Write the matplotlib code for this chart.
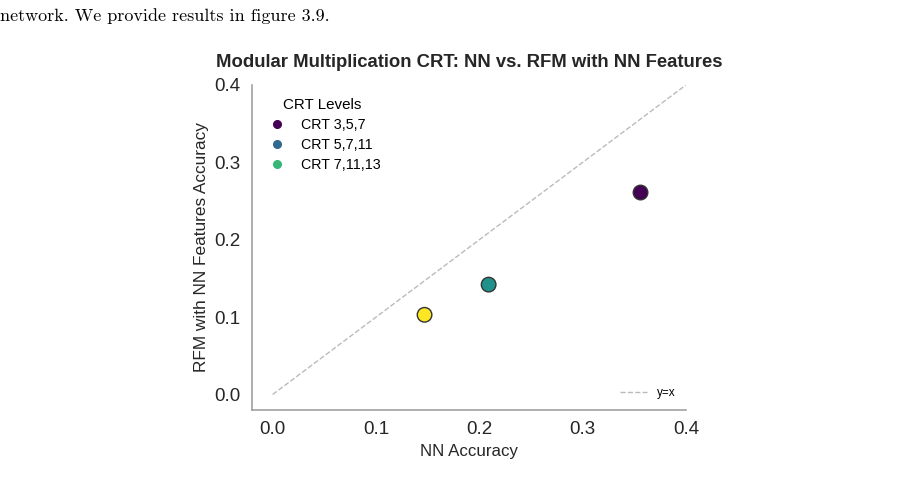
import matplotlib
matplotlib.use("Agg")
import matplotlib.pyplot as plt
from matplotlib.lines import Line2D
import numpy as np

# data
levels = ["CRT 3,5,7", "CRT 5,7,11", "CRT 7,11,13"]
nn_acc = [0.356, 0.209, 0.147]
rfm_acc = [0.261, 0.142, 0.103]
legend_colors = ["#440154", "#31688e", "#35b779"]
xticks = [0.0, 0.1, 0.2, 0.3, 0.4]
yticks = [0.0, 0.1, 0.2, 0.3, 0.4]


def main():
    plt.rcParams["font.family"] = ["Liberation Sans", "DejaVu Sans"]
    fig = plt.figure(figsize=(9.12, 4.9), dpi=100)
    ax = fig.add_axes([0.2763, 0.1633, 0.4759, 0.6633])

    # surrounding page text
    fig.text(0.0, 0.968, "network. We provide results in figure 3.9.",
             family="cmr10", fontsize=13, va="center", ha="left")

    ax.plot([0, 0.4], [0, 0.4], ls="--", color="#bbbbbb", lw=1, label="y=x")

    cmap = plt.get_cmap("viridis")
    pt_colors = cmap(np.linspace(0, 1, len(levels)))
    ax.scatter(nn_acc, rfm_acc, s=110, c=pt_colors, edgecolors="#333333",
               linewidths=1, zorder=3)

    ax.set_xlim(-0.02, 0.4)
    ax.set_ylim(-0.02, 0.4)
    ax.set_xticks(xticks)
    ax.set_yticks(yticks)
    ax.set_xticklabels([f"{t:.1f}" for t in xticks])
    ax.set_yticklabels([f"{t:.1f}" for t in yticks])
    ax.tick_params(labelsize=13.5, length=0, pad=8, colors="#262626")
    for s in ["top", "right"]:
        ax.spines[s].set_visible(False)
    for s in ["left", "bottom"]:
        ax.spines[s].set_color("#999999")
        ax.spines[s].set_linewidth(1.1)

    ax.set_xlabel("NN Accuracy", fontsize=12.2, color="#262626")
    ax.set_ylabel("RFM with NN Features Accuracy", fontsize=12.4, color="#262626")
    ax.set_title("Modular Multiplication CRT: NN vs. RFM with NN Features",
                 fontsize=13.3, fontweight="bold", color="#262626", pad=13)

    handles = [Line2D([], [], ls="", marker="o", ms=5.5, color=c) for c in legend_colors]
    leg1 = ax.legend(handles, levels, title="CRT Levels", loc="upper left",
                     frameon=False, fontsize=10.3, title_fontsize=10.9,
                     bbox_to_anchor=(-0.005, 1.0), handletextpad=0.7,
                     labelspacing=0.42)
    ax.add_artist(leg1)
    ax.legend(loc="lower right", frameon=False, fontsize=8.5, handlelength=2.3)

    plt.savefig("out.png", facecolor="w")
    plt.close()


if __name__ == '__main__':
    main()
